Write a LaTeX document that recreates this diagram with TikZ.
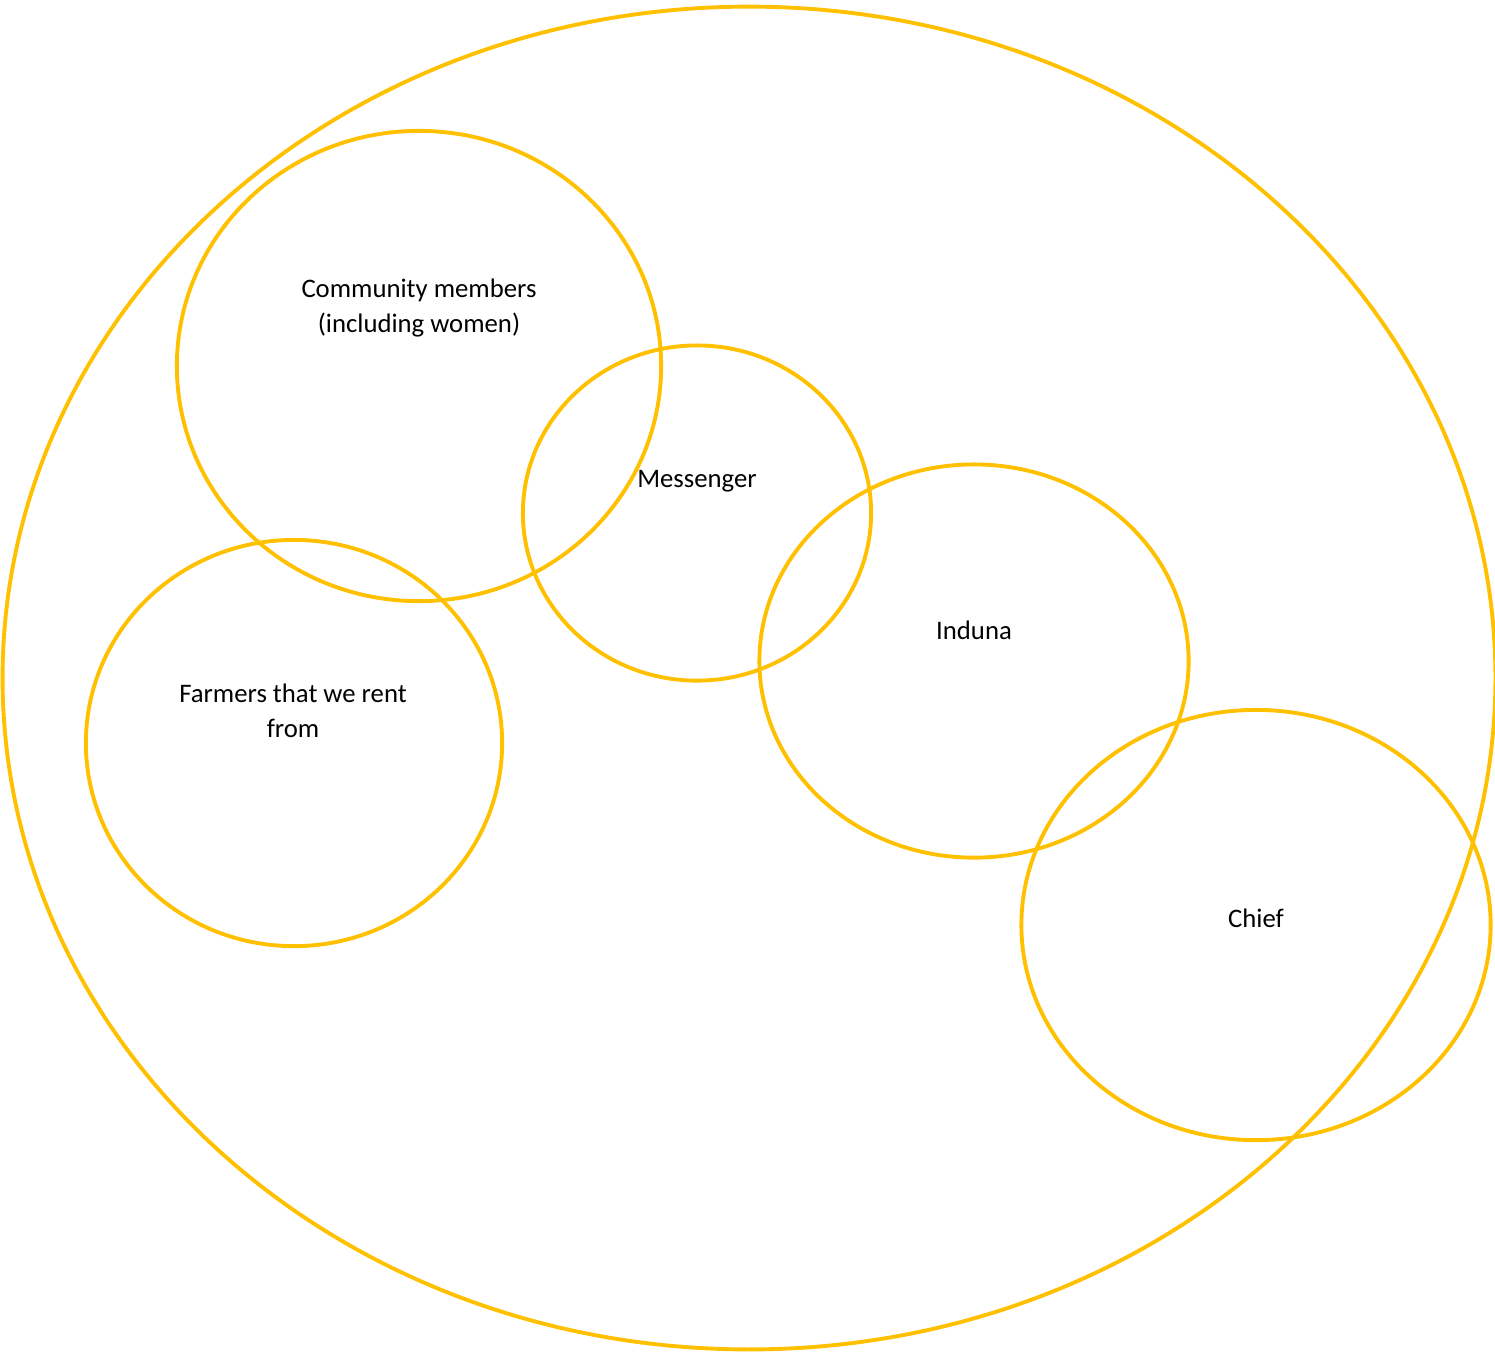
\documentclass[tikz,border=0pt]{standalone}
\usepackage{fontspec}
\setmainfont{Carlito}
\usepackage{tikz}
\usetikzlibrary{shapes.geometric}
\definecolor{venngold}{HTML}{FFC000}
\tikzset{
  vennring/.style={
    ellipse,
    draw=venngold,
    line width=1.1pt,
    inner sep=0pt
  },
  venntext/.style={
    align=center,
    font=\fontsize{7.6}{10}\selectfont,
    inner sep=0pt
  }
}

\begin{document}
\begin{tikzpicture}[x=0.01cm, y=-0.01cm]
\useasboundingbox (0,0) rectangle (1495,1353);

\node[vennring, minimum width=14.92cm, minimum height=13.42cm] (outer) at (749,678) {};
\node[vennring, minimum width=4.84cm, minimum height=4.70cm] (community) at (419,366) {};
\node[vennring, minimum width=4.16cm, minimum height=4.06cm] (farmers) at (294,743) {};
\node[vennring, minimum width=3.48cm, minimum height=3.35cm] (messenger) at (697,513) {};
\node[vennring, minimum width=4.29cm, minimum height=3.93cm] (induna) at (974,661) {};
\node[vennring, minimum width=4.69cm, minimum height=4.30cm] (chief) at (1256,925) {};

\node[venntext] (communitytext) at (419,308) {Community members\\(including women)};
\node[venntext] (messengertext) at (697,481) {Messenger};
\node[venntext] (indunatext) at (974,630) {Induna};
\node[venntext] (farmerstext) at (293,711) {Farmers that we rent\\from};
\node[venntext] (chieftext) at (1256,918) {Chief};
\end{tikzpicture}
\end{document}
